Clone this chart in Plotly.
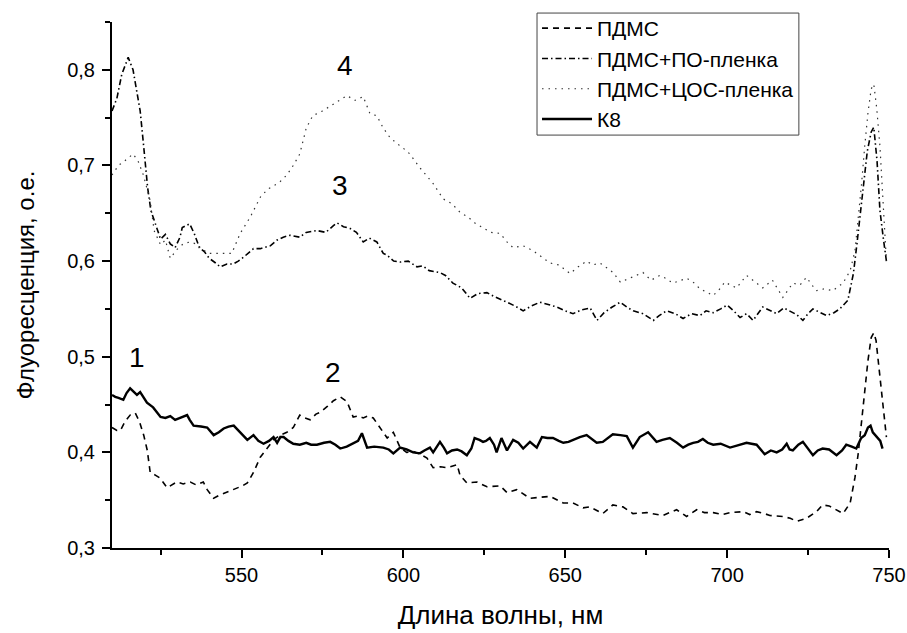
import plotly.graph_objects as go

# --- Emission spectra: wavelength (nm) and fluorescence (arb. units) ---

# ПДМС (curve 2)
pdms_wl = [510, 511.5, 512.6, 514, 515.6, 517.2, 518.5, 519.8, 520.9, 521.8, 523.5, 524.9,
           527, 528.5, 530, 532, 534.2, 536, 538.2, 539.4, 541.4, 543, 544.5, 546.5, 548.7,
           550.3, 551.8, 553.7, 555.8, 558, 559.9, 562, 564, 566, 568, 569.5, 571.2, 573,
           574.3, 576.5, 578.4, 580.5, 582.6, 584.5, 586, 587.6, 589, 590.7, 592.8, 595,
           596.9, 599, 601, 603, 605.3, 607.3, 609.2, 611.5, 613.5, 616.6, 617.5, 619.6,
           622.7, 625.8, 629.9, 632, 635, 639.1, 642.2, 645.3, 649.4, 652.4, 655.5, 657.6,
           661.6, 664.7, 667.8, 670.9, 675.2, 680.1, 684.4, 687.5, 690.6, 693, 695.7, 698.5,
           700.9, 704.9, 707, 709.1, 711.5, 713.2, 717.2, 719.5, 721.5, 724.5, 727.6, 729.5,
           731.5, 733.8, 735.8, 738, 739.5, 740.5, 741.5, 742.5, 743.5, 744.5, 745.3, 746,
           747.2, 748, 749.2]
pdms_val = [0.426, 0.423, 0.423, 0.432, 0.439, 0.441, 0.432, 0.418, 0.402, 0.379, 0.376, 0.373,
            0.363, 0.366, 0.369, 0.367, 0.369, 0.366, 0.369, 0.361, 0.352, 0.355, 0.357, 0.360, 0.363,
            0.365, 0.368, 0.379, 0.395, 0.405, 0.413, 0.418, 0.421, 0.426, 0.439, 0.436, 0.434, 0.440,
            0.442, 0.448, 0.454, 0.458, 0.453, 0.437, 0.438, 0.436, 0.438, 0.436, 0.426, 0.415,
            0.421, 0.405, 0.400, 0.401, 0.398, 0.394, 0.384, 0.385, 0.384, 0.387, 0.376, 0.368,
            0.369, 0.364, 0.365, 0.358, 0.361, 0.352, 0.353, 0.354, 0.347, 0.347, 0.342, 0.343,
            0.336, 0.345, 0.343, 0.336, 0.337, 0.334, 0.340, 0.333, 0.340, 0.337, 0.337, 0.335,
            0.337, 0.338, 0.335, 0.338, 0.336, 0.334, 0.333, 0.331, 0.328, 0.331, 0.338, 0.345,
            0.344, 0.340, 0.336, 0.347, 0.374, 0.399, 0.434, 0.465, 0.496, 0.520, 0.525, 0.517,
            0.479, 0.447, 0.416]

# ПДМС+ПО-пленка (curve 3)
po_wl = [510, 511.5, 513, 515, 516.5, 518.7, 519.7, 521, 522, 524, 525, 526.5, 528, 529.5,
         531, 531.7, 534, 535.5, 537, 538.5, 540, 542, 543.4, 545.5, 547.5, 549, 550.6, 553.7,
         555.8, 558.9, 561, 562.9, 565, 568, 570, 573.3, 576, 578.4, 579.5, 581.5, 583.6,
         585.5, 587.6, 589.5, 591.8, 593.8, 595, 597, 599, 601.5, 604.2, 606, 608, 611.3, 613,
         615.3, 618, 620.6, 623, 625.8, 628, 632, 634.5, 637, 639.5, 642.2, 644.5, 647.4, 650,
         652.4, 655, 657.7, 659.8, 662, 664.5, 667, 669, 671, 674, 677.2, 679, 681.3, 684,
         686.4, 689, 691.6, 693.5, 695.7, 698, 700, 702, 704, 706, 708, 711, 713, 715.3, 717.5,
         719.3, 721.5, 723.4, 725, 726.5, 728.5, 730.7, 733, 734.8, 737.3, 739, 740.1, 741,
         742.2, 743.3, 744.5, 745.3, 746.3, 747.2, 748.2, 749.2]
po_val = [0.757, 0.770, 0.795, 0.813, 0.800, 0.757, 0.723, 0.677, 0.653, 0.632, 0.623, 0.628,
          0.618, 0.614, 0.625, 0.635, 0.639, 0.628, 0.614, 0.610, 0.603, 0.598, 0.594, 0.597,
          0.597, 0.600, 0.604, 0.613, 0.613, 0.616, 0.622, 0.625, 0.627, 0.625, 0.630, 0.632,
          0.630, 0.637, 0.640, 0.636, 0.634, 0.630, 0.620, 0.624, 0.620, 0.608, 0.606, 0.600,
          0.599, 0.600, 0.594, 0.595, 0.590, 0.588, 0.585, 0.577, 0.572, 0.561, 0.566, 0.567,
          0.563, 0.557, 0.553, 0.548, 0.553, 0.557, 0.555, 0.552, 0.548, 0.545, 0.549, 0.551,
          0.538, 0.546, 0.552, 0.557, 0.552, 0.548, 0.545, 0.538, 0.543, 0.548, 0.545, 0.540,
          0.545, 0.543, 0.548, 0.546, 0.550, 0.554, 0.548, 0.541, 0.545, 0.538, 0.552, 0.549,
          0.545, 0.551, 0.548, 0.544, 0.538, 0.545, 0.550, 0.547, 0.543, 0.546, 0.550, 0.559,
          0.587, 0.618, 0.646, 0.680, 0.715, 0.735, 0.740, 0.705, 0.653, 0.625, 0.600]

# ПДМС+ЦОС-пленка (curve 4)
tsos_wl = [510, 512, 514, 516.5, 518, 519.7, 521.8, 523, 525, 526.5, 528, 530, 532, 534, 536,
           538, 540, 543, 547, 549.6, 552.7, 556, 558.5, 561.6, 564, 566, 568, 570, 572, 575,
           578.4, 580.5, 582.6, 585, 587.6, 589.7, 591.8, 593.8, 595.9, 598, 600, 602, 605,
           607, 609.2, 612.3, 615, 617.5, 620, 622, 624.7, 627, 629.9, 632, 633.9, 637, 640,
           642.5, 645.3, 648, 651.5, 654, 656.6, 658.5, 660.7, 662, 664.8, 667, 670, 674,
           676.5, 679.2, 681, 683.2, 687.5, 689.5, 691.6, 693.5, 695.7, 697.5, 699.3, 701,
           702.9, 706, 708.5, 711, 714, 717.2, 720.3, 722.5, 724.5, 727.5, 730, 732.6, 735.8,
           738, 739.5, 740.5, 741.5, 742.5, 743.5, 744.5, 745.3, 746.2, 747.2, 748.2, 749.2]
tsos_val = [0.690, 0.700, 0.705, 0.712, 0.705, 0.690, 0.663, 0.632, 0.617, 0.622, 0.603, 0.612,
            0.618, 0.620, 0.618, 0.612, 0.608, 0.608, 0.608, 0.629, 0.646, 0.668, 0.676, 0.682,
            0.690, 0.700, 0.712, 0.739, 0.752, 0.757, 0.764, 0.768, 0.773, 0.768, 0.772, 0.754,
            0.752, 0.739, 0.729, 0.723, 0.718, 0.712, 0.698, 0.690, 0.681, 0.665, 0.660, 0.651,
            0.646, 0.640, 0.635, 0.630, 0.629, 0.620, 0.614, 0.616, 0.611, 0.605, 0.598, 0.596,
            0.587, 0.594, 0.600, 0.596, 0.598, 0.595, 0.588, 0.578, 0.582, 0.588, 0.580, 0.585,
            0.582, 0.577, 0.582, 0.578, 0.571, 0.568, 0.564, 0.570, 0.578, 0.575, 0.572, 0.585,
            0.578, 0.572, 0.580, 0.562, 0.577, 0.575, 0.583, 0.569, 0.571, 0.569, 0.577, 0.590,
            0.611, 0.642, 0.680, 0.720, 0.755, 0.780, 0.785, 0.760, 0.720, 0.660, 0.600]

# К8 (curve 1)
k8_wl = [510, 511, 512, 513.5, 514.5, 515.6, 516.5, 517.7, 518.7, 520, 520.8, 522.7, 524, 525,
         526.5, 528, 529.5, 531, 533.2, 534, 535.2, 537.5, 539.4, 541.4, 543, 544.5, 546, 547.6,
         549.5, 551.8, 553.7, 555.2, 556.8, 558.5, 559.9, 561, 562, 563, 564.5, 566, 568, 570,
         571.5, 573.3, 575.5, 577.4, 579, 580.5, 582.5, 584.5, 586, 587.2, 588.8, 591, 593.8,
         595.5, 596.9, 599, 601, 603, 605.1, 606.5, 608.2, 609.2, 610, 611.3, 612.5, 613.5, 615,
         616.6, 618, 619.6, 621, 622, 623.5, 624.6, 625.5, 626.7, 628, 628.8, 630.3, 631, 632,
         633.9, 635.5, 637, 639.1, 641.2, 642.8, 644.5, 646.2, 648, 649.4, 651, 652.4, 654.5,
         656.6, 658.2, 659.7, 661.6, 663, 664.7, 667, 669, 670.9, 673, 675.6, 677, 678.2, 680,
         682.3, 684.5, 686.4, 688, 689.5, 691, 692.5, 694, 695.7, 698, 700.9, 703, 706, 707.5,
         709.1, 711.6, 713.5, 715.3, 717, 718.4, 719.3, 720.3, 722, 723.4, 725, 726.5, 728,
         729.5, 731.5, 733.8, 735.5, 736.8, 738.5, 739.9, 741.4, 742.5, 743.5, 744.3, 745,
         746.5, 747.3, 748]
k8_val = [0.460, 0.458, 0.457, 0.455, 0.462, 0.467, 0.464, 0.460, 0.463, 0.456, 0.452, 0.447,
          0.442, 0.437, 0.436, 0.438, 0.434, 0.436, 0.439, 0.434, 0.428, 0.427, 0.426, 0.418,
          0.421, 0.425, 0.427, 0.428, 0.421, 0.413, 0.418, 0.412, 0.409, 0.412, 0.416, 0.410,
          0.416, 0.416, 0.412, 0.409, 0.408, 0.410, 0.408, 0.408, 0.410, 0.411, 0.408, 0.404,
          0.406, 0.409, 0.412, 0.420, 0.405, 0.406, 0.405, 0.403, 0.399, 0.405, 0.403, 0.400,
          0.399, 0.402, 0.405, 0.400, 0.404, 0.411, 0.405, 0.399, 0.402, 0.403, 0.401, 0.397,
          0.404, 0.415, 0.413, 0.411, 0.412, 0.415, 0.408, 0.400, 0.415, 0.410, 0.402, 0.413,
          0.410, 0.404, 0.411, 0.405, 0.416, 0.415, 0.415, 0.412, 0.410, 0.411, 0.413, 0.416,
          0.418, 0.414, 0.410, 0.411, 0.415, 0.419, 0.418, 0.417, 0.405, 0.416, 0.421, 0.415,
          0.411, 0.413, 0.415, 0.410, 0.405, 0.408, 0.410, 0.411, 0.414, 0.410, 0.408, 0.409,
          0.405, 0.407, 0.410, 0.409, 0.408, 0.398, 0.402, 0.400, 0.403, 0.409, 0.403, 0.402,
          0.408, 0.411, 0.404, 0.397, 0.402, 0.404, 0.403, 0.397, 0.402, 0.408, 0.406, 0.404,
          0.415, 0.418, 0.426, 0.428, 0.421, 0.415, 0.412, 0.404]

# Curve number labels: (text, wavelength, value)
curve_labels = [("1", 517.8, 0.499), ("2", 578.3, 0.483), ("3", 580.5, 0.679), ("4", 582.0, 0.804)]

FONT = "Liberation Sans, Arial, sans-serif"

fig = go.Figure()
fig.add_trace(go.Scatter(x=pdms_wl, y=pdms_val, mode="lines", name="ПДМС",
                         line=dict(color="black", width=1.6, dash="6px,5px")))
fig.add_trace(go.Scatter(x=po_wl, y=po_val, mode="lines", name="ПДМС+ПО-пленка",
                         line=dict(color="black", width=1.6, dash="6px,3px,1.5px,3px")))
fig.add_trace(go.Scatter(x=tsos_wl, y=tsos_val, mode="lines", name="ПДМС+ЦОС-пленка",
                         line=dict(color="#333333", width=1.2, dash="1.5px,5px")))
fig.add_trace(go.Scatter(x=k8_wl, y=k8_val, mode="lines", name="К8",
                         line=dict(color="black", width=2.4)))

for text, wl, val in curve_labels:
    fig.add_annotation(x=wl, y=val, text=text, showarrow=False,
                       font=dict(family=FONT, size=28, color="black"))

# Frame around the legend, drawn as a tight paper-space rectangle
fig.add_shape(type="rect", xref="paper", yref="paper",
              x0=0.547, x1=0.884, y0=0.785, y1=1.017,
              line=dict(color="#444444", width=1), fillcolor="white", layer="below")

axis_common = dict(
    showline=True, linecolor="black", linewidth=2,
    ticks="outside", ticklen=8, tickwidth=2, tickcolor="black",
    showgrid=False, zeroline=False, mirror=False,
    tickfont=dict(family=FONT, size=20, color="black"),
)

fig.update_xaxes(
    range=[510, 750], tickmode="linear", tick0=500, dtick=50,
    minor=dict(ticks="outside", ticklen=5, tickwidth=2, tickcolor="black", dtick=25, tick0=500),
    title=dict(text="Длина волны, нм", font=dict(family=FONT, size=26, color="black"), standoff=21),
    **axis_common,
)
fig.update_yaxes(
    range=[0.3, 0.85], tickmode="linear", tick0=0.3, dtick=0.1, tickformat=".1f",
    minor=dict(ticks="outside", ticklen=5, tickwidth=2, tickcolor="black", dtick=0.05, tick0=0.3),
    title=dict(text="Флуоресценция, о.е.", font=dict(family=FONT, size=24, color="black"), standoff=26),
    ticklabelstandoff=3,
    **axis_common,
)

fig.update_layout(
    width=907, height=633,
    margin=dict(l=112, r=18, t=22, b=85, autoexpand=False),
    paper_bgcolor="white", plot_bgcolor="white",
    separators=", ",
    font=dict(family=FONT, color="black"),
    legend=dict(
        x=0.547, y=1.0266, xanchor="left", yanchor="top",
        bgcolor="rgba(0,0,0,0)", borderwidth=0,
        font=dict(family=FONT, size=21, color="black"),
        tracegroupgap=0, itemwidth=50,
    ),
)

fig.write_html("out.html")
